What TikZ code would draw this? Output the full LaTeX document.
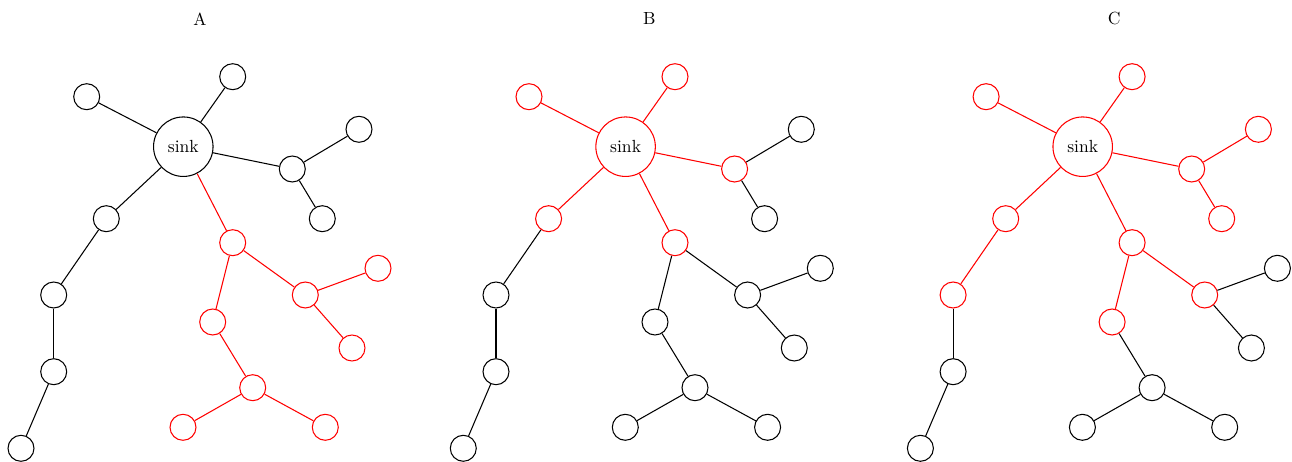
\documentclass[tikz,border=0pt]{standalone}
\tikzset{
  vertex/.style={circle, draw, minimum size=0.52cm, inner sep=0pt},
  hub/.style={circle, draw, minimum size=1.19cm, inner sep=0pt, text=black},
  link/.style={line width=0.6pt},
}

\begin{document}
\begin{tikzpicture}[x=0.02cm, y=-0.02cm, line width=0.6pt]
	%%%%% START %%%%%
	\useasboundingbox (0,0) rectangle (1292,462);

	\node (titleA) at (200,19) {A};
	\node (titleB) at (649.3,19) {B};
	\node (titleC) at (1114.3,19) {C};

	%%%%% A %%%%%
	\begin{scope}[name prefix=A-]
		\node[hub, draw=black] (sink) at (183.3,146.7) {sink};
		\foreach \n/\x/\y/\c in {n1/86.7/96.7/black, n2/232.7/76.7/black, n3/292.3/169/black,
			n4/359/129.3/black, n5/322.3/218.7/black, n6/106.3/218.7/black, n7/53.7/295/black,
			n8/53.7/371.7/black, n9/21/448.3/black, n10/232.7/242.7/red, n11/305.3/295/red,
			n12/378/268.3/red, n13/352/348/red, n14/212.7/322/red, n15/252.7/387.7/red,
			n16/183/427.3/red, n17/325.3/427.3/red}
			\node[vertex, draw=\c] (\n) at (\x,\y) {};
		\foreach \a/\b/\c in {sink/n1/black, sink/n2/black, sink/n3/black, n3/n4/black,
			n3/n5/black, sink/n6/black, n6/n7/black, n7/n8/black, n8/n9/black, sink/n10/red,
			n10/n11/red, n11/n12/red, n11/n13/red, n10/n14/red, n14/n15/red, n15/n16/red, n15/n17/red}
			\draw[link, \c] (\a) -- (\b);
	\end{scope}

	%%%%% B %%%%%
	\begin{scope}[shift={(442.3,0)}, name prefix=B-]
		\node[hub, draw=red] (sink) at (183.3,146.7) {sink};
		\foreach \n/\x/\y/\c in {n1/86.7/96.7/red, n2/232.7/76.7/red, n3/292.3/169/red,
			n4/359/129.3/black, n5/322.3/218.7/black, n6/106.3/218.7/red, n7/53.7/295/black,
			n8/53.7/371.7/black, n9/21/448.3/black, n10/232.7/242.7/red, n11/305.3/295/black,
			n12/378/268.3/black, n13/352/348/black, n14/212.7/322/black, n15/252.7/387.7/black,
			n16/183/427.3/black, n17/325.3/427.3/black}
			\node[vertex, draw=\c] (\n) at (\x,\y) {};
		\foreach \a/\b/\c in {sink/n1/red, sink/n2/red, sink/n3/red, n3/n4/black,
			n3/n5/black, sink/n6/red, n6/n7/black, n7/n8/black, n8/n9/black, sink/n10/red,
			n10/n11/black, n11/n12/black, n11/n13/black, n10/n14/black, n14/n15/black,
			n15/n16/black, n15/n17/black}
			\draw[link, \c] (\a) -- (\b);
	\end{scope}

	%%%%% C %%%%%
	\begin{scope}[shift={(899.4,0)}, name prefix=C-]
		\node[hub, draw=red] (sink) at (183.3,146.7) {sink};
		\foreach \n/\x/\y/\c in {n1/86.7/96.7/red, n2/232.7/76.7/red, n3/292.3/169/red,
			n4/359/129.3/red, n5/322.3/218.7/red, n6/106.3/218.7/red, n7/53.7/295/red,
			n8/53.7/371.7/black, n9/21/448.3/black, n10/232.7/242.7/red, n11/305.3/295/red,
			n12/378/268.3/black, n13/352/348/black, n14/212.7/322/red, n15/252.7/387.7/black,
			n16/183/427.3/black, n17/325.3/427.3/black}
			\node[vertex, draw=\c] (\n) at (\x,\y) {};
		\foreach \a/\b/\c in {sink/n1/red, sink/n2/red, sink/n3/red, n3/n4/red,
			n3/n5/red, sink/n6/red, n6/n7/red, n7/n8/black, n8/n9/black, sink/n10/red,
			n10/n11/red, n11/n12/black, n11/n13/black, n10/n14/red, n14/n15/black,
			n15/n16/black, n15/n17/black}
			\draw[link, \c] (\a) -- (\b);
	\end{scope}

	%%%%% END %%%%%
\end{tikzpicture}
\end{document}
